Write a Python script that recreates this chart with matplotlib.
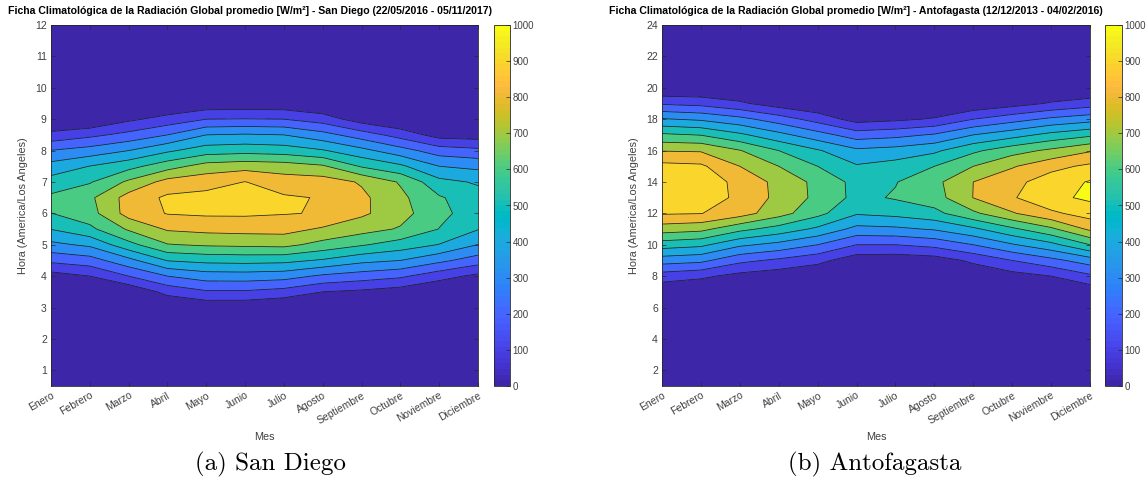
import numpy as np
import matplotlib
matplotlib.use("Agg")
import matplotlib.pyplot as plt
from matplotlib.colors import ListedColormap, Normalize
from matplotlib.cm import ScalarMappable

# ---- data -------------------------------------------------------------
meses = ["Enero", "Febrero", "Marzo", "Abril", "Mayo", "Junio", "Julio",
         "Agosto", "Septiembre", "Octubre", "Noviembre", "Diciembre"]
mes_num = np.arange(1, 13)

# San Diego: half-hour rows from 0.5 to 12.0, one column per month [W/m2]
sd_horas = np.arange(0.5, 12.01, 0.5)
sd_radiacion = [
    [0, 0, 0, 0, 0, 0, 0, 0, 0, 0, 0, 0],                          # 0.5
    [0, 0, 0, 0, 0, 0, 0, 0, 0, 0, 0, 0],                          # 1.0
    [0, 0, 0, 0, 0, 0, 0, 0, 0, 0, 0, 0],                          # 1.5
    [0, 0, 0, 0, 0, 0, 0, 0, 0, 0, 0, 0],                          # 2.0
    [0, 0, 0, 0, 0, 0, 0, 0, 0, 0, 0, 0],                          # 2.5
    [0, 0, 0, 0, 26, 25, 0, 0, 0, 0, 0, 0],                        # 3.0
    [0, 0, 15, 131, 187, 187, 161, 100, 80, 50, 0, 0],             # 3.5
    [55, 100, 200, 300, 350, 353, 341, 282, 250, 218, 140, 75],    # 4.0
    [224, 256, 369, 505, 528, 534, 528, 488, 428, 400, 325, 250],  # 4.5
    [375, 419, 566, 694, 713, 720, 727, 666, 610, 555, 496, 398],  # 5.0
    [503, 576, 714, 812, 828, 834, 836, 787, 740, 690, 598, 505],  # 5.5
    [598, 660, 840, 905, 915, 915, 905, 894, 818, 741, 621, 560],  # 6.0
    [620, 680, 840, 917, 930, 935, 912, 894, 822, 724, 611, 540],  # 6.5
    [541, 591, 719, 836, 863, 902, 849, 848, 790, 690, 530, 488],  # 7.0
    [440, 502, 566, 659, 742, 762, 750, 714, 590, 520, 400, 375],  # 7.5
    [303, 342, 400, 483, 551, 563, 551, 509, 430, 340, 250, 225],  # 8.0
    [128, 175, 230, 300, 400, 410, 400, 336, 250, 160, 60, 50],    # 8.5
    [0, 0, 80, 138, 200, 204, 200, 152, 50, 0, 0, 0],              # 9.0
    [0, 0, 0, 0, 33, 35, 33, 0, 0, 0, 0, 0],                       # 9.5
    [0, 0, 0, 0, 0, 0, 0, 0, 0, 0, 0, 0],                          # 10.0
    [0, 0, 0, 0, 0, 0, 0, 0, 0, 0, 0, 0],                          # 10.5
    [0, 0, 0, 0, 0, 0, 0, 0, 0, 0, 0, 0],                          # 11.0
    [0, 0, 0, 0, 0, 0, 0, 0, 0, 0, 0, 0],                          # 11.5
    [0, 0, 0, 0, 0, 0, 0, 0, 0, 0, 0, 0],                          # 12.0
]

# Antofagasta: hourly rows from 1 to 24, one column per month [W/m2]
an_horas = np.arange(1, 25)
an_radiacion = [
    [0, 0, 0, 0, 0, 0, 0, 0, 0, 0, 0, 0],                          # 1
    [0, 0, 0, 0, 0, 0, 0, 0, 0, 0, 0, 0],                          # 2
    [0, 0, 0, 0, 0, 0, 0, 0, 0, 0, 0, 0],                          # 3
    [0, 0, 0, 0, 0, 0, 0, 0, 0, 0, 0, 0],                          # 4
    [0, 0, 0, 0, 0, 0, 0, 0, 0, 0, 0, 0],                          # 5
    [0, 0, 0, 0, 0, 0, 0, 0, 0, 0, 0, 0],                          # 6
    [20, 0, 0, 0, 0, 0, 0, 0, 0, 0, 0, 30],                        # 7
    [150, 121, 67, 40, 10, 0, 0, 0, 20, 60, 100, 180],             # 8
    [346, 325, 226, 180, 130, 40, 35, 50, 120, 200, 270, 350],     # 9
    [549, 523, 419, 370, 300, 200, 200, 230, 300, 390, 470, 600],  # 10
    [749, 728, 628, 560, 480, 370, 380, 410, 480, 580, 680, 820],  # 11
    [910, 903, 845, 740, 630, 510, 530, 570, 680, 790, 880, 944],  # 12
    [960, 970, 872, 775, 675, 572, 610, 656, 802, 890, 975, 1019], # 13
    [955, 965, 868, 772, 672, 570, 595, 672, 800, 870, 950, 1008], # 14
    [930, 918, 800, 700, 600, 510, 540, 600, 700, 790, 870, 920],  # 15
    [795, 790, 705, 600, 510, 420, 440, 480, 580, 660, 720, 790],  # 16
    [617, 596, 520, 430, 340, 250, 270, 310, 400, 460, 530, 580],  # 17
    [408, 384, 330, 250, 160, 60, 80, 110, 200, 260, 320, 360],    # 18
    [187, 169, 117, 50, 10, 0, 0, 0, 20, 60, 110, 150],            # 19
    [0, 0, 0, 0, 0, 0, 0, 0, 0, 0, 0, 0],                          # 20
    [0, 0, 0, 0, 0, 0, 0, 0, 0, 0, 0, 0],                          # 21
    [0, 0, 0, 0, 0, 0, 0, 0, 0, 0, 0, 0],                          # 22
    [0, 0, 0, 0, 0, 0, 0, 0, 0, 0, 0, 0],                          # 23
    [0, 0, 0, 0, 0, 0, 0, 0, 0, 0, 0, 0],                          # 24
]

niveles = np.arange(0, 1001, 100)

# ---- parula colormap (64 entries) -------------------------------------
PARULA = [
    [0.2422, 0.1504, 0.6603], [0.2504, 0.1650, 0.7076], [0.2578, 0.1818, 0.7511],
    [0.2647, 0.1978, 0.7952], [0.2706, 0.2147, 0.8364], [0.2751, 0.2342, 0.8710],
    [0.2783, 0.2559, 0.8991], [0.2803, 0.2782, 0.9221], [0.2813, 0.3006, 0.9414],
    [0.2810, 0.3228, 0.9579], [0.2795, 0.3447, 0.9717], [0.2760, 0.3667, 0.9829],
    [0.2699, 0.3892, 0.9906], [0.2602, 0.4123, 0.9952], [0.2440, 0.4358, 0.9988],
    [0.2206, 0.4603, 0.9973], [0.1963, 0.4847, 0.9892], [0.1834, 0.5074, 0.9798],
    [0.1786, 0.5289, 0.9682], [0.1764, 0.5499, 0.9520], [0.1687, 0.5703, 0.9359],
    [0.1540, 0.5902, 0.9218], [0.1460, 0.6091, 0.9079], [0.1380, 0.6276, 0.8973],
    [0.1248, 0.6459, 0.8883], [0.1113, 0.6635, 0.8763], [0.0952, 0.6798, 0.8598],
    [0.0689, 0.6948, 0.8394], [0.0297, 0.7082, 0.8163], [0.0036, 0.7203, 0.7917],
    [0.0067, 0.7312, 0.7660], [0.0433, 0.7411, 0.7394], [0.0964, 0.7500, 0.7120],
    [0.1408, 0.7584, 0.6842], [0.1717, 0.7670, 0.6554], [0.1938, 0.7758, 0.6251],
    [0.2161, 0.7843, 0.5923], [0.2470, 0.7918, 0.5567], [0.2906, 0.7973, 0.5188],
    [0.3406, 0.8008, 0.4789], [0.3909, 0.8029, 0.4354], [0.4456, 0.8024, 0.3909],
    [0.5044, 0.7993, 0.3480], [0.5616, 0.7942, 0.3045], [0.6174, 0.7876, 0.2612],
    [0.6720, 0.7793, 0.2227], [0.7242, 0.7698, 0.1910], [0.7738, 0.7598, 0.1646],
    [0.8203, 0.7498, 0.1535], [0.8634, 0.7406, 0.1596], [0.9035, 0.7330, 0.1774],
    [0.9393, 0.7288, 0.2100], [0.9728, 0.7298, 0.2394], [0.9956, 0.7434, 0.2371],
    [0.9970, 0.7659, 0.2199], [0.9952, 0.7893, 0.2028], [0.9892, 0.8136, 0.1885],
    [0.9786, 0.8386, 0.1766], [0.9676, 0.8639, 0.1643], [0.9610, 0.8890, 0.1537],
    [0.9597, 0.9135, 0.1423], [0.9628, 0.9373, 0.1265], [0.9691, 0.9606, 0.1064],
    [0.9769, 0.9839, 0.0805],
]
parula = ListedColormap(PARULA, name="parula")
VMIN, VMAX = 0, 1000

# each filled band takes the colour of its lower level
band_edges = np.append(niveles, niveles[-1] + 100).astype(float)
band_edges[0] = -1.0
band_colors = [PARULA[min(int(l / (VMAX - VMIN) * 64), 63)] for l in niveles]

AX_COLOR = "#262626"
TXT_COLOR = "#404040"
plt.rcParams["font.family"] = "Liberation Sans"

W, H = 1148, 486
fig = plt.figure(figsize=(W / 100, H / 100), dpi=100)


def box(l, t, r, b):
    return [l / W, (H - b) / H, (r - l) / W, (b - t) / H]


def panel(ax_box, cb_box, horas, datos, yticks, ylim, titulo, tx, caption, cx):
    ax = fig.add_axes(box(*ax_box))
    z = np.array(datos, dtype=float)
    ax.contourf(mes_num, horas, z, levels=band_edges, colors=band_colors)
    ax.contour(mes_num, horas, z, levels=niveles[1:], colors="#1e1e1e",
               linewidths=0.55)
    ax.set_xlim(1, 12)
    ax.set_ylim(*ylim)
    ax.set_xticks(mes_num)
    ax.set_xticklabels(meses, rotation=30, ha="right", va="top",
                       rotation_mode="anchor")
    ax.set_yticks(yticks)
    ax.tick_params(direction="in", length=3, width=0.5, top=True, right=True,
                   labelsize=7.5, colors=AX_COLOR, labelcolor=TXT_COLOR, pad=3)
    for s in ax.spines.values():
        s.set_linewidth(0.6)
        s.set_color(AX_COLOR)
    ax.set_xlabel("Mes", fontsize=7.8, color=TXT_COLOR, labelpad=5)
    ax.set_ylabel("Hora (America/Los Angeles)", fontsize=7.8, color=TXT_COLOR,
                  labelpad=5)

    cax = fig.add_axes(box(*cb_box))
    cb = fig.colorbar(ScalarMappable(norm=Normalize(VMIN, VMAX), cmap=parula),
                      cax=cax, ticks=niveles)
    cb.outline.set_linewidth(0.6)
    cb.outline.set_edgecolor(AX_COLOR)
    cax.tick_params(direction="in", length=3, width=0.5, labelsize=7,
                    colors=AX_COLOR, labelcolor=TXT_COLOR, pad=2)

    fig.text(tx / W, 1 - 11 / H, titulo, ha="center", va="center",
             fontsize=7.6, fontweight="bold", color="black")
    fig.text(cx / W, 1 - 464 / H, caption, ha="center", va="center",
             fontsize=18, family="cmr10", color="black")
    return ax


panel((51, 25, 478, 386), (494, 25, 510, 386), sd_horas, sd_radiacion,
      np.arange(1, 13), (0.5, 12),
      "Ficha Climatológica de la Radiación Global promedio [W/m²] - San Diego (22/05/2016 - 05/11/2017)",
      250, "(a) San Diego", 270)
panel((662, 25, 1090, 386), (1105, 25, 1122, 386), an_horas, an_radiacion,
      np.arange(2, 25, 2), (1, 24),
      "Ficha Climatológica de la Radiación Global promedio [W/m²] - Antofagasta (12/12/2013 - 04/02/2016)",
      856, "(b) Antofagasta", 875)

fig.savefig("out.png", dpi=100)
